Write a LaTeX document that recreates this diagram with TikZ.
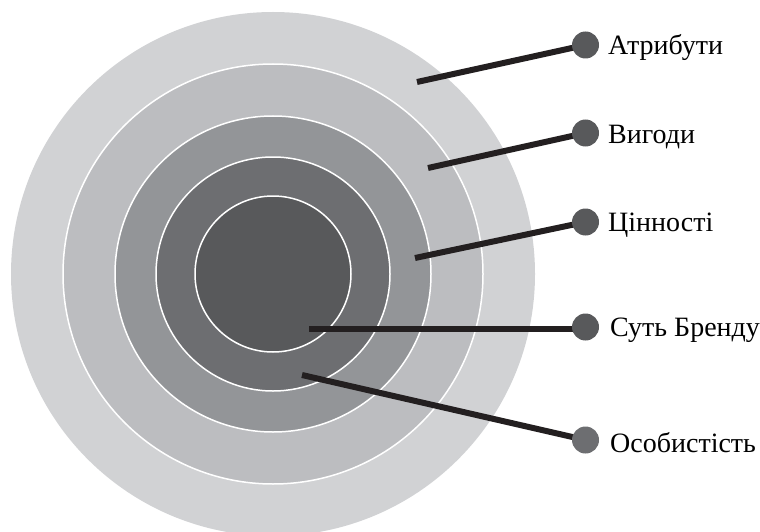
\documentclass[tikz,border=0pt]{standalone}
\usepackage{fontspec}
\setmainfont{Liberation Serif}
\definecolor{ringA}{HTML}{D1D2D4}
\definecolor{ringB}{HTML}{BCBDC0}
\definecolor{ringC}{HTML}{939598}
\definecolor{ringD}{HTML}{6D6E71}
\definecolor{ringE}{HTML}{58595B}
\definecolor{barcol}{HTML}{231F20}
\definecolor{dotdark}{HTML}{58595B}
\definecolor{dotlight}{HTML}{6D6E71}
\pgfdeclarelayer{rings}
\pgfdeclarelayer{bars}
\pgfsetlayers{rings,bars,main}
\begin{document}
\begin{tikzpicture}[x=1pt,y=-1pt,
  ring/.style={draw=white,line width=1.5pt},
  bar/.style={draw=barcol,line width=6pt},
  dot/.style={circle,inner sep=0pt,minimum size=27pt,fill=#1},
  lbl/.style={anchor=base west,inner sep=0pt,font=\fontsize{28}{31}\selectfont}]
  \useasboundingbox (0,0) rectangle (760,532);
  \clip (0,0) rectangle (760,532);
  % concentric rings
  \begin{pgfonlayer}{rings}
    \coordinate (ctr) at (273,274);
    \fill[ringA] (ctr) circle[radius=262];
    \filldraw[ring,fill=ringB] (ctr) circle[radius=210];
    \filldraw[ring,fill=ringC] (ctr) circle[radius=158];
    \filldraw[ring,fill=ringD] (ctr) circle[radius=117];
    \filldraw[ring,fill=ringE] (ctr) circle[radius=78];
  \end{pgfonlayer}
  % inner ends of the leader bars
  \coordinate (s1) at (417,82);
  \coordinate (s2) at (428,168);
  \coordinate (s3) at (415,258);
  \coordinate (s4) at (309,329);
  \coordinate (s5) at (302,375);
  % marker dots
  \node[dot=dotdark]  (d1) at (585.5,45) {};
  \node[dot=dotdark]  (d2) at (585.5,133) {};
  \node[dot=dotdark]  (d3) at (585.5,222) {};
  \node[dot=dotdark]  (d4) at (585.5,327) {};
  \node[dot=dotlight] (d5) at (585.5,440) {};
  % leader bars, kept under the dots
  \begin{pgfonlayer}{bars}
    \draw[bar] (s1) -- (d1.center);
    \draw[bar] (s2) -- (d2.center);
    \draw[bar] (s3) -- (d3.center);
    \draw[bar] (s4) -- (s4 -| d4.center);
    \draw[bar] (s5) -- (d5.center);
  \end{pgfonlayer}
  % labels
  \node[lbl] (t1) at (608,55)  {Атрибути};
  \node[lbl] (t2) at (608,143) {Вигоди};
  \node[lbl] (t3) at (608,231) {Цінності};
  \node[lbl] (t4) at (610,336) {Суть Бренду};
  \node[lbl] (t5) at (610,452) {Особистість};
\end{tikzpicture}
\end{document}
